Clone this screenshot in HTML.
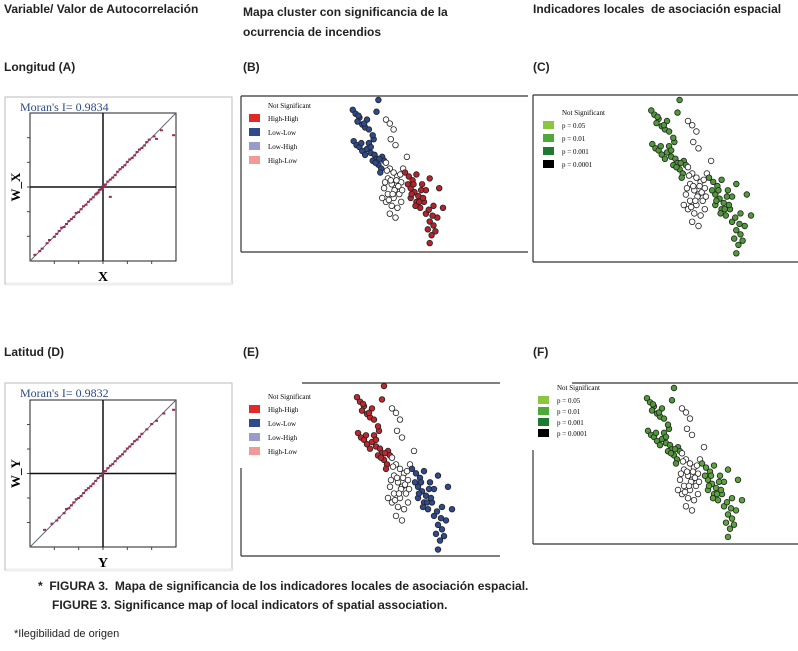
<!DOCTYPE html>
<html><head><meta charset="utf-8"><style>
body{margin:0;background:#fff;width:798px;height:651px;overflow:hidden;font-family:"Liberation Sans",sans-serif}
.t{position:absolute;font-weight:bold;font-size:12px;color:#222;white-space:nowrap}
</style></head><body>
<div class="t" style="left:4px;top:2px">Variable/ Valor de Autocorrelación</div>
<div class="t" style="left:243px;top:2px;line-height:20px">Mapa cluster con significancia de la<br>ocurrencia de incendios</div>
<div class="t" style="left:533px;top:2px">Indicadores locales &nbsp;de asociación espacial</div>
<div class="t" style="left:4px;top:60px">Longitud (A)</div>
<div class="t" style="left:243px;top:60px">(B)</div>
<div class="t" style="left:533px;top:60px">(C)</div>
<div class="t" style="left:4px;top:345px">Latitud (D)</div>
<div class="t" style="left:243px;top:345px">(E)</div>
<div class="t" style="left:533px;top:345px">(F)</div>
<div class="t" style="left:38px;top:579px">* &nbsp;FIGURA 3. &nbsp;Mapa de significancia de los indicadores locales de asociación espacial.</div>
<div class="t" style="left:52px;top:598px">FIGURE 3. Significance map of local indicators of spatial association.</div>
<div class="t" style="left:14px;top:628px;font-weight:normal;font-size:11px">*Ilegibilidad de origen</div>
<svg id="s" width="798" height="651" style="position:absolute;left:0;top:0"></svg>
<script>
// Moran scatter data (standardized values)
const moranXA=[-2.8,-2.6,-2.5,-2.3,-2.2,-2.0,-1.9,-1.8,-1.7,-1.6,-1.5,-1.4,-1.3,-1.2,-1.1,-1.0,-0.9,-0.8,-0.7,-0.6,-0.5,-0.4,-0.3,-0.25,-0.2,-0.15,-0.1,-0.05,0,0.05,0.1,0.2,0.3,0.4,0.5,0.6,0.7,0.8,0.9,1.0,1.1,1.2,1.3,1.4,1.5,1.6,1.7,1.8,1.9,2.1,2.4,0.3,2.9,2.2];
const moranYA=[-2.75,-2.6,-2.5,-2.28,-2.15,-2.02,-1.9,-1.78,-1.65,-1.62,-1.5,-1.38,-1.3,-1.22,-1.05,-1.02,-0.9,-0.78,-0.72,-0.6,-0.5,-0.42,-0.3,-0.26,-0.22,-0.12,-0.1,-0.06,0.02,0.04,0.1,0.22,0.3,0.38,0.48,0.62,0.72,0.8,0.88,1.02,1.12,1.18,1.28,1.42,1.52,1.58,1.68,1.82,1.92,2.05,2.3,-0.4,2.1,1.95];
const moranXD=[-2.4,-2.1,-1.9,-1.8,-1.6,-1.5,-1.4,-1.3,-1.2,-1.1,-1.0,-0.9,-0.8,-0.7,-0.6,-0.5,-0.4,-0.3,-0.2,-0.1,0,0.1,0.2,0.3,0.4,0.5,0.6,0.7,0.8,0.9,1,1.1,1.2,1.3,1.4,1.5,1.6,1.8,2,2.2,2.5,2.9];
const moranYD=[-2.3,-2.05,-1.92,-1.8,-1.62,-1.45,-1.42,-1.3,-1.18,-1.05,-1.0,-0.92,-0.8,-0.68,-0.6,-0.52,-0.42,-0.3,-0.18,-0.1,0.02,0.1,0.22,0.32,0.38,0.5,0.62,0.7,0.78,0.9,1.02,1.1,1.2,1.32,1.38,1.5,1.62,1.8,2.02,2.15,2.45,2.6];
const moranLabels=["Moran's I= 0.9834","Moran's I= 0.9832"];
// Fire point locations (relative map coords) and cluster group (0 top,1 middle,2 bottom)
const ptX=[5,8,12,10,15,18,22,6,9,12,15,20,24,28,30,26,32,35,22,27,30,32,20,36,38,34,14,18,24,29,33,11,17,26,40,44,48,45,50,40,44,48,52,42,46,50,38,42,48,54,56,40,46,52,36,58,44,50,62,56,45,49,53,41,47,55,43,51,39,57,60,64,68,72,66,70,74,78,82,86,80,76,82,86,90,84,88,92,72,66,96,100,90,86,94,63,69,75,79,71,77,85,89,67];
const ptY=[10,14,18,22,25,28,30,42,46,48,52,50,54,56,60,62,66,70,44,40,12,0,20,58,62,74,44,56,48,64,60,16,24,36,20,24,30,40,46,64,70,74,78,80,86,90,90,96,100,96,84,104,108,110,100,70,116,120,58,104,82,92,88,72,96,76,102,82,84,92,74,78,82,76,90,94,98,86,92,80,104,110,116,124,128,132,138,134,104,100,90,110,108,146,120,86,86,104,100,108,92,112,118,96];
const ptG=[0,0,0,0,0,0,0,0,0,0,0,0,0,0,0,0,0,0,0,0,0,0,0,0,0,0,0,0,0,0,0,0,0,0,1,1,1,1,1,1,1,1,1,1,1,1,1,1,1,1,1,1,1,1,1,1,1,1,1,1,1,1,1,1,1,1,1,1,1,1,2,2,2,2,2,2,2,2,2,2,2,2,2,2,2,2,2,2,2,2,2,2,2,2,2,2,2,2,2,2,2,2,2,2];
const colB=["#2e4a8f","#ffffff","#b8232b"],colC=["#4f9a38","#ffffff","#4f9a38"],colE=["#c0272d","#ffffff","#2e4a8f"],colF=["#4f9a38","#ffffff","#5aa53c"];
const legB=["High-High","Low-Low","Low-High","High-Low"],legBc=["#e02a2a","#2e4a8f","#9b9bcb","#f29a9a"];
const legC=["p = 0.05","p = 0.01","p = 0.001","p = 0.0001"],legCc=["#8cc63f","#4fa83a","#1e7a30","#000"];
const NS="http://www.w3.org/2000/svg",S=document.getElementById('s');
function mk(t,a,p){const e=document.createElementNS(NS,t);for(const k in a)e.setAttribute(k,a[k]);(p||S).appendChild(e);return e;}
function moran(x0,y0,fx,fy,fw,fh,xs,ys,lab,xl,yl,nm){
 const g=mk('g',{});
 mk('rect',{x:x0,y:y0,width:227,height:187,fill:'none',stroke:'#bbb'},g);
 mk('line',{x1:x0+1,y1:y0+187,x2:x0+227,y2:y0+187,stroke:'#eee','stroke-width':3},g);
 const t=mk('text',{x:x0+15,y:y0+14,'font-family':'Liberation Serif',fill:'#2b4a8a','font-size':12},g);t.textContent=lab;
 mk('rect',{x:fx,y:fy,width:fw,height:fh,fill:'none',stroke:'#222'},g);
 const sx=v=>fx+fw/2+v*fw/6,sy=v=>fy+fh/2-v*fh/6;
 for(let i=1;i<6;i++){mk('line',{x1:fx-3,y1:fy+i*fh/6,x2:fx,y2:fy+i*fh/6,stroke:'#444'},g);mk('line',{x1:fx+i*fw/6,y1:fy+fh,x2:fx+i*fw/6,y2:fy+fh+3,stroke:'#444'},g);}
 mk('line',{x1:sx(0),y1:fy,x2:sx(0),y2:fy+fh,stroke:'#111','stroke-width':1.5},g);
 mk('line',{x1:fx,y1:sy(0),x2:fx+fw,y2:sy(0),stroke:'#111','stroke-width':1.5},g);
 mk('line',{x1:sx(-3),y1:sy(-3),x2:sx(3),y2:sy(3),stroke:'#667'},g);
 for(let i=0;i<xs.length;i++){const p=mk('rect',{x:sx(xs[i])-1.5,y:sy(ys[i])-1,width:3,height:2,fill:'#9a2b55'},g);}
 const a=mk('text',{x:fx+fw/2,y:fy+fh+20,'font-family':'Liberation Serif','font-weight':'bold','font-size':14,'text-anchor':'middle'},g);a.textContent=xl;
 const b=mk('text',{x:20,y:fy+fh/2,'font-family':'Liberation Serif','font-weight':'bold','font-size':13,'text-anchor':'middle',transform:`rotate(-90 20 ${fy+fh/2})`},g);b.textContent=yl;
}
moran(5,97,30,113,146,148,moranXA,moranYA,moranLabels[0],'X','W_X','moran-scatter-longitude');
moran(5,383,30,400,146,147,moranXD,moranYD,moranLabels[1],'Y','W_Y','moran-scatter-latitude');
function map(nm,box,ox,oy,kx,ky,cols,leg,legc,lx,ly,sq){
 const g=mk('g',{});
 box.forEach(l=>mk('line',{x1:l[0],y1:l[1],x2:l[2],y2:l[3],stroke:'#333','stroke-width':1.2},g));
 const t=mk('text',{x:lx+19,y:ly,'font-family':'Liberation Serif','font-size':7},g);t.textContent='Not Significant';
 leg.forEach((s,i)=>{const y=ly+6+i*sq;mk('rect',{x:lx,y:y,width:11,height:8,fill:legc[i]},g);const e=mk('text',{x:lx+19,y:y+7,'font-family':'Liberation Serif','font-size':7},g);e.textContent=s;});
 for(let i=0;i<ptX.length;i++){const c=mk('circle',{cx:ox+ptX[i]*kx,cy:oy+ptY[i]*ky,r:2.8,fill:cols[ptG[i]],stroke:'#222','stroke-width':0.8},g);}
}
map('cluster-map-longitude',[[241,96,528,96],[241,96,241,252],[241,252,528,252]],348,100,0.95,0.98,colB,legB,legBc,249,108,14);
map('lisa-map-longitude',[[533,95,798,95],[533,95,533,262],[533,262,798,262]],646,100,1.05,1.05,colC,legC,legCc,543,115,13);
map('cluster-map-latitude',[[302,383,500,383],[241,468,241,556],[241,556,500,556]],352,386,1.0,1.12,colE,legB,legBc,249,399,14);
map('lisa-map-latitude',[[572,383,798,383],[533,450,533,544],[533,544,798,544]],642,388,1.0,1.02,colF,legC,legCc,538,390,11);
</script>
</body></html>
